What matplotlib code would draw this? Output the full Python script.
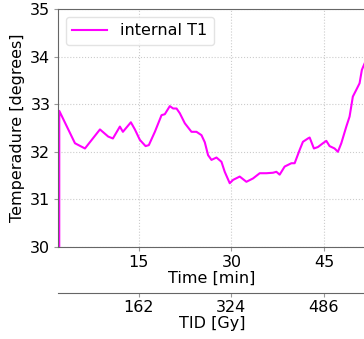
import numpy as np
import matplotlib
matplotlib.use("Agg")
import matplotlib.pyplot as plt

# time [min] and internal temperature T1 [degrees]
time_min = [2.05, 2.11, 4.65, 6.27, 8.70, 10.04, 10.80, 11.93, 12.42, 13.71, 14.36,
            15.17, 16.09, 16.62, 17.60, 18.68, 19.21, 20.02, 20.56, 21.11, 21.64,
            22.45, 23.53, 24.34, 25.15, 25.69, 26.22, 26.77, 27.58, 28.39, 28.92,
            29.73, 30.27, 31.35, 32.43, 33.50, 34.59, 35.67, 36.74, 37.29, 37.82,
            38.63, 39.72, 40.25, 41.06, 41.59, 42.40, 42.68, 43.37, 44.02, 44.83,
            45.38, 45.91, 46.72, 47.26, 47.81, 48.62, 49.15, 49.68, 50.23, 50.77,
            51.14, 51.46, 51.9]
temp_t1 = [0.0, 32.86, 32.18, 32.07, 32.47, 32.32, 32.28, 32.53, 32.42, 32.62, 32.47,
           32.25, 32.12, 32.14, 32.42, 32.77, 32.79, 32.96, 32.91, 32.91, 32.81,
           32.60, 32.42, 32.42, 32.35, 32.20, 31.93, 31.83, 31.88, 31.79, 31.58,
           31.34, 31.41, 31.48, 31.37, 31.44, 31.55, 31.55, 31.56, 31.58, 31.52,
           31.69, 31.76, 31.76, 32.04, 32.21, 32.28, 32.30, 32.07, 32.10, 32.18,
           32.23, 32.12, 32.07, 32.00, 32.18, 32.53, 32.74, 33.16, 33.30, 33.44,
           33.72, 33.82, 33.95]

time_ticks = [15, 30, 45]
tid_ticks = [162, 324, 486]
gy_per_min = 10.8

fs = 11.5
fig = plt.figure(figsize=(3.64, 3.39), dpi=100)
ax = fig.add_axes([0.1593, 0.2714, 0.846, 0.702])

ax.plot(time_min, temp_t1, color="magenta", lw=1.5, label="internal T1")

ax.set_xlim(1.9, 51.8)
ax.set_ylim(30, 35)
ax.set_xticks(time_ticks)
ax.set_yticks([30, 31, 32, 33, 34, 35])
ax.grid(True, ls=":", color="#cccccc", lw=0.8)
ax.set_xlabel("Time [min]", fontsize=fs, labelpad=1)
ax.set_ylabel("Temperadure [degrees]", fontsize=fs, labelpad=4)
ax.tick_params(labelsize=fs, color="#999999", length=3, pad=2.5)
for s in ax.spines.values():
    s.set_color("#666666")

ax.legend(loc="upper left", fontsize=fs, handlelength=2.2, framealpha=0.8,
          edgecolor="#dddddd")

sec = ax.secondary_xaxis("bottom", functions=(lambda t: t * gy_per_min,
                                              lambda d: d / gy_per_min))
sec.spines["bottom"].set_position(("outward", 33))
sec.spines["bottom"].set_color("#666666")
sec.set_xticks(tid_ticks)
sec.tick_params(labelsize=fs, color="#999999", length=3, pad=2)
sec.set_xlabel("TID [Gy]", fontsize=fs, labelpad=1)

fig.savefig("out.png", dpi=100)
